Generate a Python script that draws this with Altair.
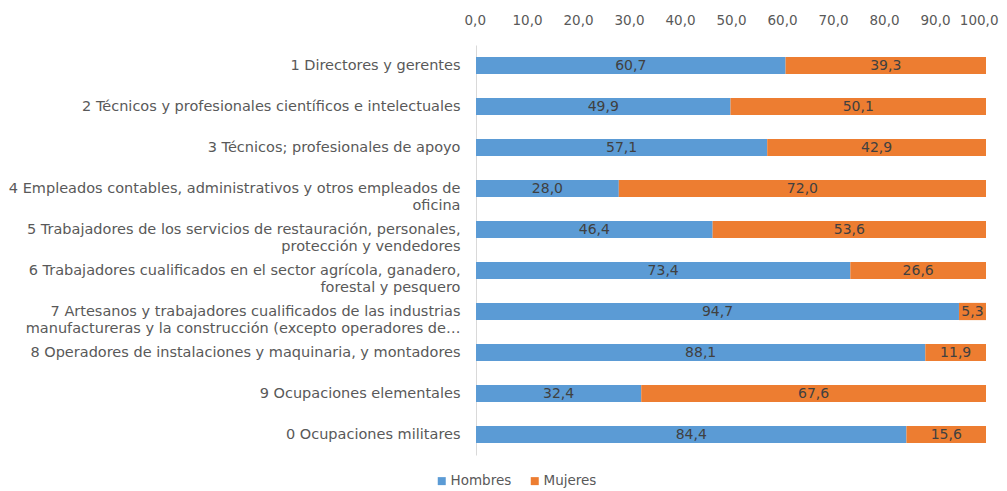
import altair as alt
import pandas as pd

categories = [
    "1 Directores y gerentes",
    "2 Técnicos y profesionales científicos e intelectuales",
    "3 Técnicos; profesionales de apoyo",
    "4 Empleados contables, administrativos y otros empleados de|oficina",
    "5 Trabajadores de los servicios de restauración, personales,|protección y vendedores",
    "6 Trabajadores cualificados en el sector agrícola, ganadero,|forestal y pesquero",
    "7 Artesanos y trabajadores cualificados de las industrias|manufactureras y la construcción (excepto operadores de…",
    "8 Operadores de instalaciones y maquinaria, y montadores",
    "9 Ocupaciones elementales",
    "0 Ocupaciones militares",
]
hombres = [60.7, 49.9, 57.1, 28.0, 46.4, 73.4, 94.7, 88.1, 32.4, 84.4]
mujeres = [39.3, 50.1, 42.9, 72.0, 53.6, 26.6, 5.3, 11.9, 67.6, 15.6]
series = ["Hombres", "Mujeres"]
colors = ["#5B9BD5", "#ED7D31"]

rows = []
for c, h, m in zip(categories, hombres, mujeres):
    rows.append({"cat": c, "serie": "Hombres", "order": 0, "value": h})
    rows.append({"cat": c, "serie": "Mujeres", "order": 1, "value": m})
df = pd.DataFrame(rows)

FONT = "DejaVu Sans"
TXT = "#595959"

base = alt.Chart(df).transform_stack(
    stack="value", groupby=["cat"], as_=["v0", "v1"],
    sort=[alt.SortField("order", "ascending")]
).transform_calculate(
    mid="(datum.v0 + datum.v1) / 2",
    lbl="replace(format(datum.value, '.1f'), '.', ',')"
)

y = alt.Y("cat:N", sort=categories, title=None,
          scale=alt.Scale(paddingInner=0.58, paddingOuter=0.29),
          axis=alt.Axis(labelExpr="split(datum.label, '|')", labelAlign="right",
                        labelFontSize=14.5, labelColor=TXT, labelFont=FONT,
                        labelLineHeight=17, labelPadding=16, ticks=False,
                        domainColor="#D9D9D9", labelLimit=0))

bars = base.mark_bar().encode(
    x=alt.X("v0:Q", title=None,
            scale=alt.Scale(domain=[0, 100], nice=False),
            axis=alt.Axis(orient="top", values=list(range(0, 101, 10)),
                          labelExpr="replace(format(datum.value, '.1f'), '.', ',')",
                          labelFontSize=13.5, labelColor=TXT, labelFont=FONT,
                          grid=False, ticks=False, domain=False, labelPadding=18,
                          labelFlush=True, labelFlushOffset=12)),
    x2="v1:Q",
    y=y,
    color=alt.Color("serie:N", scale=alt.Scale(domain=series, range=colors),
                    legend=alt.Legend(orient="none", legendX=-41, legendY=429,
                                      direction="horizontal", title=None,
                                      symbolType="square", symbolSize=64,
                                      symbolStrokeWidth=0, labelOffset=2,
                                      labelFontSize=13.5, labelColor=TXT,
                                      labelFont=FONT, columnPadding=16)),
)

labels = base.mark_text(fontSize=14, color="#404040", font=FONT, baseline="middle").encode(
    x="mid:Q",
    y=alt.Y("cat:N", sort=categories),
    text="lbl:N",
)

chart = alt.layer(bars, labels).properties(
    width=510, height=410,
    autosize=alt.AutoSizeParams(type="none"),
    padding={"left": 468, "top": 37, "right": 13, "bottom": 36},
).configure_view(stroke=None)

chart.save("out.html", embed_options={"renderer": "svg", "actions": False})
